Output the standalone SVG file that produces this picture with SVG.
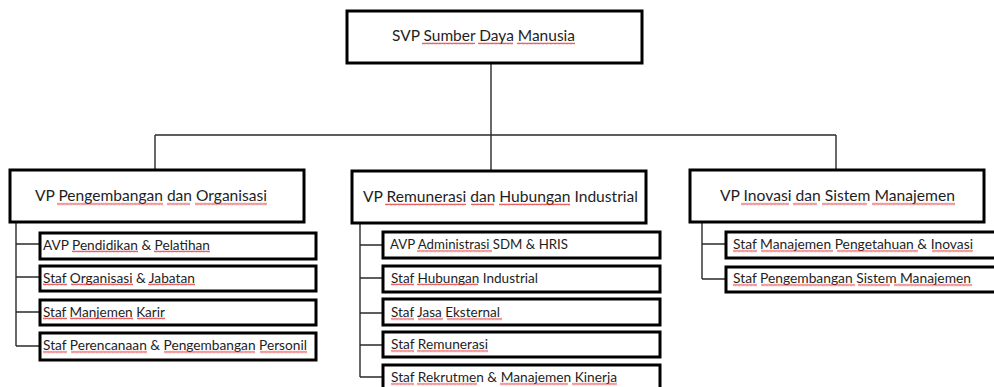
<svg xmlns="http://www.w3.org/2000/svg" width="994" height="387" viewBox="0 0 994 387">
<style>
.box{fill:#fff;stroke:#000;stroke-width:3}
.t{font-family:Lato,"Liberation Sans",sans-serif;fill:#1e1e1e}
.big{font-size:16px}
.sm{font-size:14px}
.con{fill:none;stroke:#2a2a2a;stroke-width:1.4}
</style>
<defs>
<pattern id="sq" patternUnits="userSpaceOnUse" width="4" height="3">
<path d="M0 2.3 L1 0.7 L2 2.3 L3 0.7 L4 2.3" fill="none" stroke="#e02020" stroke-width="0.7"/>
</pattern>
</defs>
<rect width="994" height="387" fill="#fff"/>
<g id="connectors">
<path class="con" d="M491 63 V171 M155 135 H836 M155 135 V170 M836 135 V170"/>
<path class="con" d="M16 222 V346 M16 244 H40 M16 277 H40 M16 312 H40 M16 346 H40"/>
<path class="con" d="M360 223 V377 M360 245 H383 M360 278 H383 M360 313 H383 M360 345 H383 M360 377 H383"/>
<path class="con" d="M702 222 V279 M702 244 H726 M702 279 H726"/>
</g>
<g id="svp"><rect class="box" x="347" y="11" width="295" height="52"/><text class="t big" x="392" y="40.5" textLength="183" lengthAdjust="spacingAndGlyphs">SVP Sumber Daya Manusia</text></g>
<g id="vp1"><rect class="box" x="10" y="170" width="294" height="52"/><text class="t big" x="35" y="201" textLength="232" lengthAdjust="spacingAndGlyphs">VP Pengembangan dan Organisasi</text></g>
<g id="vp2"><rect class="box" x="352" y="171" width="294" height="52"/><text class="t big" x="363" y="201.5" textLength="275" lengthAdjust="spacingAndGlyphs">VP Remunerasi dan Hubungan Industrial</text></g>
<g id="vp3"><rect class="box" x="690" y="170" width="294" height="52"/><text class="t big" x="720" y="201" textLength="235" lengthAdjust="spacingAndGlyphs">VP Inovasi dan Sistem Manajemen</text></g>
<g id="c1"><rect class="box" x="40" y="233" width="276" height="26"/><text class="t sm" x="43" y="249.5" textLength="167" lengthAdjust="spacingAndGlyphs">AVP Pendidikan &amp; Pelatihan</text></g>
<g id="c2"><rect class="box" x="40" y="266" width="276" height="25"/><text class="t sm" x="43" y="282.5" textLength="152" lengthAdjust="spacingAndGlyphs">Staf Organisasi &amp; Jabatan</text></g>
<g id="c3"><rect class="box" x="40" y="300" width="276" height="25"/><text class="t sm" x="43" y="316.5" textLength="122" lengthAdjust="spacingAndGlyphs">Staf Manjemen Karir</text></g>
<g id="c4"><rect class="box" x="40" y="333" width="276" height="27"/><text class="t sm" x="43" y="349.5" textLength="264" lengthAdjust="spacingAndGlyphs">Staf Perencanaan &amp; Pengembangan Personil</text></g>
<g id="m1"><rect class="box" x="383" y="232" width="277" height="26"/><text class="t sm" x="390" y="248.5" textLength="178" lengthAdjust="spacingAndGlyphs">AVP Administrasi SDM &amp; HRIS</text></g>
<g id="m2"><rect class="box" x="383" y="266" width="277" height="26"/><text class="t sm" x="391" y="282.5" textLength="147" lengthAdjust="spacingAndGlyphs">Staf Hubungan Industrial</text></g>
<g id="m3"><rect class="box" x="383" y="299" width="277" height="26"/><text class="t sm" x="391" y="316.5" textLength="109" lengthAdjust="spacingAndGlyphs">Staf Jasa Eksternal</text></g>
<g id="m4"><rect class="box" x="383" y="332" width="277" height="25"/><text class="t sm" x="391" y="348.5" textLength="97" lengthAdjust="spacingAndGlyphs">Staf Remunerasi</text></g>
<g id="m5"><rect class="box" x="383" y="365" width="277" height="28"/><text class="t sm" x="391" y="381.5" textLength="226" lengthAdjust="spacingAndGlyphs">Staf Rekrutmen &amp; Manajemen Kinerja</text></g>
<g id="r1"><rect class="box" x="726" y="232" width="272" height="26"/><text class="t sm" x="733" y="248.5" textLength="240" lengthAdjust="spacingAndGlyphs">Staf Manajemen Pengetahuan &amp; Inovasi</text></g>
<g id="r2"><rect class="box" x="726" y="267" width="272" height="25"/><text class="t sm" x="733" y="282.5" textLength="238" lengthAdjust="spacingAndGlyphs">Staf Pengembangan Sistem Manajemen</text></g>
<g id="spellcheck" fill="url(#sq)">
<rect transform="translate(422,42)" width="53" height="3"/>
<rect transform="translate(478,42)" width="35" height="3"/>
<rect transform="translate(517,42)" width="58" height="3"/>
<rect transform="translate(57,202.5)" width="106" height="3"/>
<rect transform="translate(167,202.5)" width="23" height="3"/>
<rect transform="translate(195,202.5)" width="72" height="3"/>
<rect transform="translate(385,203)" width="81" height="3"/>
<rect transform="translate(471,203)" width="23" height="3"/>
<rect transform="translate(499,203)" width="71" height="3"/>
<rect transform="translate(741,202.5)" width="48" height="3"/>
<rect transform="translate(793,202.5)" width="24" height="3"/>
<rect transform="translate(822,202.5)" width="45" height="3"/>
<rect transform="translate(872,202.5)" width="83" height="3"/>
<rect transform="translate(72,250)" width="66" height="3"/>
<rect transform="translate(154,250)" width="56" height="3"/>
<rect transform="translate(43,283)" width="24" height="3"/>
<rect transform="translate(71,283)" width="62" height="3"/>
<rect transform="translate(148,283)" width="47" height="3"/>
<rect transform="translate(43,317)" width="24" height="3"/>
<rect transform="translate(70,317)" width="63" height="3"/>
<rect transform="translate(137,317)" width="28" height="3"/>
<rect transform="translate(43,350.5)" width="24" height="3"/>
<rect transform="translate(71,350.5)" width="76" height="3"/>
<rect transform="translate(164,350.5)" width="91" height="3"/>
<rect transform="translate(260,350.5)" width="47" height="3"/>
<rect transform="translate(417,249.5)" width="75" height="3"/>
<rect transform="translate(391,283)" width="23" height="3"/>
<rect transform="translate(417,283)" width="61" height="3"/>
<rect transform="translate(391,317.5)" width="23" height="3"/>
<rect transform="translate(418,317.5)" width="25" height="3"/>
<rect transform="translate(447,317.5)" width="55" height="3"/>
<rect transform="translate(391,349.5)" width="23" height="3"/>
<rect transform="translate(417,349.5)" width="71" height="3"/>
<rect transform="translate(391,382.5)" width="23" height="3"/>
<rect transform="translate(417,382.5)" width="60" height="3"/>
<rect transform="translate(500,382.5)" width="68" height="3"/>
<rect transform="translate(572,382.5)" width="45" height="3"/>
<rect transform="translate(733,249.5)" width="24" height="3"/>
<rect transform="translate(761,249.5)" width="72" height="3"/>
<rect transform="translate(837,249.5)" width="81" height="3"/>
<rect transform="translate(932,249.5)" width="41" height="3"/>
<rect transform="translate(733,283.5)" width="24" height="3"/>
<rect transform="translate(761,283.5)" width="94" height="3"/>
<rect transform="translate(858,283.5)" width="32" height="3"/>
<rect transform="translate(894,283.5)" width="78" height="3"/>
</g>
</svg>
